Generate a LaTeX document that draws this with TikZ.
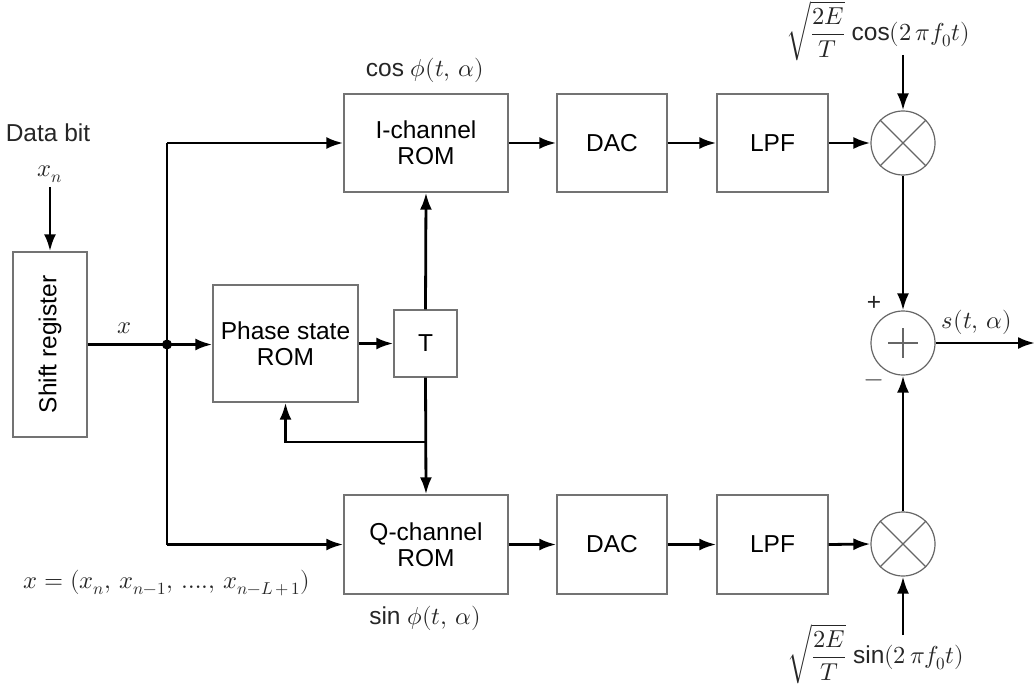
\documentclass[tikz,border=0pt]{standalone}
\usepackage{fontspec}
\usepackage{unicode-math}
\setmainfont{Liberation Sans}
\setmathfont{Latin Modern Math}
\usetikzlibrary{arrows.meta,calc}

\begin{document}
\begin{tikzpicture}[x=1pt,y=-1pt,
  font=\fontsize{24.5}{26}\selectfont,
  blk/.style={draw=black!55,line width=1.4pt,minimum width=#1,align=center,inner sep=0pt},
  blk/.default=110pt,
  wire/.style={line width=2.8pt},
  arr/.style={wire,-{Latex[length=17pt,width=12pt]}},
  opnode/.style={circle,draw=black!60,line width=1.2pt,minimum size=64pt,inner sep=0pt},
  lbl/.style={inner sep=0pt,text=black!85}]
\useasboundingbox (0,0) rectangle (1035,687);

% blocks
\node[blk=74pt,minimum height=185pt] (sr) at (50,344.5) {\rotatebox{90}{Shift register}};
\node[blk=145pt,minimum height=117pt] (ps) at (285.5,343.5) {Phase state\\ROM};
\node[blk=63pt,minimum height=67pt] (T) at (425.5,343.5) {T};
\node[blk=164pt,minimum height=98pt] (irom) at (426,143) {I-channel\\ROM};
\node[blk=110pt,minimum height=98pt] (dac1) at (612,143) {DAC};
\node[blk=111pt,minimum height=98pt] (lpf1) at (772.5,143) {LPF};
\node[blk=164pt,minimum height=99pt] (qrom) at (426,544.5) {Q-channel\\ROM};
\node[blk=110pt,minimum height=99pt] (dac2) at (612,544.5) {DAC};
\node[blk=111pt,minimum height=99pt] (lpf2) at (772.5,544.5) {LPF};

% mixers and summer
\node[opnode] (m1) at (903,143) {};
\node[opnode] (sum) at (903,343) {};
\node[opnode] (m2) at (903,544) {};
\foreach \m in {m1,m2}{
  \draw[black!60,line width=1.2pt] (\m.north west) -- (\m.south east);
  \draw[black!60,line width=1.2pt] (\m.north east) -- (\m.south west);
}
\draw[black!60,line width=1.2pt] ($(sum.center)+(-15,0)$) -- ($(sum.center)+(15,0)$);
\draw[black!60,line width=1.2pt] ($(sum.center)+(0,-15)$) -- ($(sum.center)+(0,15)$);

% labels
\node[lbl] (databit) at (48,133) {Data bit};
\node[lbl] (xn) at (50,174) {$x_n$};
\node[lbl] (xlab) at (125,328) {$x$};
\node[lbl] (vec) at (167,583) {$x = (x_n,\, x_{n-1},\, \dots\!.,\, x_{n-L\,+\,1})$};
\node[lbl] (cosphi) at (425,70) {cos $\phi(t,\,\alpha)$};
\node[lbl] (sinphi) at (425,618) {sin $\phi(t,\,\alpha)$};
\node[lbl] (cref) at (878,31) {$\sqrt{\displaystyle\frac{2E}{T}}$ cos$(2\,\pi f_0t)$};
\node[lbl] (sref) at (876,654) {$\sqrt{\displaystyle\frac{2E}{T}}$ sin$(2\,\pi f_0t)$};
\node[lbl] (plus) at (874,303) {+};
\node[lbl] (minus) at (874,383) {$-$};
\node[lbl] (out) at (977,322) {$s(t,\,\alpha)$};

% connection points
\coordinate (J) at (167,344.5);
\coordinate (itop) at (167,143);
\coordinate (qbot) at (167,544.5);
\coordinate (fb) at (T.south |- 0,442);
\coordinate (fbl) at (ps.south |- 0,442);
\coordinate (xnin) at (50,187);
\coordinate (cin) at (903,55);
\coordinate (sin) at (903,635);
\coordinate (sout) at (1035,343);

% connectors
\draw[arr] (xnin) -- (sr.north);
\draw[arr] (sr.east |- J) -- (ps.west |- J);
\draw[wire] (itop) -- (qbot);
\draw[arr] (itop) -- (irom.west |- itop);
\draw[arr] (qbot) -- (qrom.west |- qbot);
\fill (J) circle (5pt);
\draw[arr] (ps.east |- T) -- (T.west);
\draw[arr] (T.north) -- (irom.south);
\draw[arr] (T.south) -- (qrom.north);
\draw[arr] (fb) -- (fbl) -- (ps.south);
\draw[arr] (irom) -- (dac1);
\draw[arr] (dac1) -- (lpf1);
\draw[arr] (lpf1) -- (m1);
\draw[arr] (qrom) -- (dac2);
\draw[arr] (dac2) -- (lpf2);
\draw[arr] (lpf2.east) -- (m2.west);
\draw[arr] (cin) -- (m1.north);
\draw[arr] (sin) -- (m2.south);
\draw[arr] (m1.south) -- (sum.north);
\draw[arr] (m2.north) -- (sum.south);
\draw[arr] (sum.east) -- (sout);
\end{tikzpicture}
\end{document}
